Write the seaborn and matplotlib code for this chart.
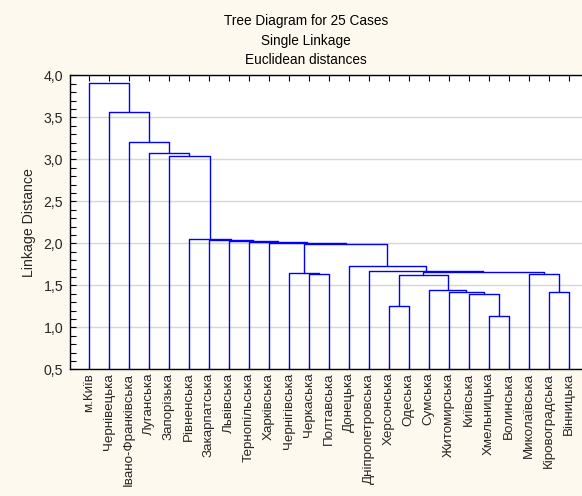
import numpy as np
import pandas as pd
import matplotlib
matplotlib.use("Agg")
import matplotlib.pyplot as plt
from matplotlib.ticker import MultipleLocator, FuncFormatter, FixedLocator
import seaborn as sns

# ---------------- data ----------------
title_lines = ["Tree Diagram for 25 Cases", "Single Linkage", "Euclidean distances"]
y_label = "Linkage Distance"

leaves = ["м.Київ", "Чернівецька", "Івано-Франківська", "Луганська", "Запорізька",
          "Рівненська", "Закарпатська", "Львівська", "Тернопільська", "Харківська",
          "Чернігівська", "Черкаська", "Полтавська", "Донецька", "Дніпропетровська",
          "Херсонська", "Одеська", "Сумська", "Житомирська", "Київська",
          "Хмельницька", "Волинська", "Миколаївська", "Кіровоградська", "Вінницька"]

# merges (ids < 25 are leaves, id 25 + k is the cluster made by merge k)
merge_left = [20, 15, 19, 23, 18, 17, 11, 26, 22, 10, 32, 14,
              13, 34, 9, 8, 7, 6, 5, 4, 3, 2, 1, 0]
merge_right = [21, 16, 25, 24, 27, 29, 12, 30, 28, 31, 33, 35,
               36, 37, 38, 39, 40, 41, 42, 43, 44, 45, 46, 47]
merge_height = [1.13, 1.25, 1.40, 1.42, 1.42, 1.44, 1.63, 1.625, 1.635, 1.65, 1.66, 1.67,
                1.73, 1.99, 2.01, 2.02, 2.03, 2.04, 2.05, 3.04, 3.08, 3.21, 3.56, 3.91]

y_min, y_max = 0.5, 4.0

# ---------------- build dendrogram segments ----------------
pos = [float(i) for i in range(len(leaves))]
hgt = [0.0] * len(leaves)
rows = []
for k, (l, r, h) in enumerate(zip(merge_left, merge_right, merge_height)):
    xl, xr = pos[l], pos[r]
    pts = [(xl, hgt[l]), (xl, h), (xr, h), (xr, hgt[r])]
    for j, (px, py) in enumerate(pts):
        rows.append({"seg": k, "order": j, "x": px, "y": py})
    pos.append((xl + xr) / 2.0)
    hgt.append(h)
df = pd.DataFrame(rows)

# ---------------- style ----------------
sns.set_style("white")
plt.rcParams["font.family"] = ["Liberation Sans", "DejaVu Sans"]
plt.rcParams["axes.linewidth"] = 1.0

W, H = 582, 496
fig = plt.figure(figsize=(W / 100, H / 100), dpi=100)
fig.patch.set_facecolor("#fdf9ee")

ax_left, ax_right, ax_top, ax_bottom = 69.5, 582.0, 75.5, 369.3
ax = fig.add_axes([ax_left / W, (H - ax_bottom) / H,
                   (ax_right - ax_left) / W, (ax_bottom - ax_top) / H])
ax.set_facecolor("white")

sns.lineplot(data=df, x="x", y="y", units="seg", estimator=None, sort=False,
             color="#0000ff", linewidth=1.0, ax=ax, legend=False)

# x scale: 20 px per leaf
first_leaf_px = 88.8
x_lo = -(first_leaf_px - ax_left) / 20.0
x_hi = x_lo + (ax_right - ax_left) / 20.0
ax.set_xlim(x_lo, x_hi)
ax.set_ylim(y_min, y_max)

ax.xaxis.set_major_locator(FixedLocator(range(len(leaves))))
ax.set_xticklabels(leaves, rotation=90, fontsize=9.6, va="top", ha="center")
ax.tick_params(axis="x", direction="in", top=True, bottom=True, length=4,
               width=0.8, pad=2.5, labelbottom=True, labeltop=False, color="black")

ax.yaxis.set_major_locator(MultipleLocator(0.5))
ax.yaxis.set_minor_locator(MultipleLocator(0.1))
ax.yaxis.set_major_formatter(FuncFormatter(lambda v, p: f"{v:.1f}".replace(".", ",")))
ax.tick_params(axis="y", which="both", direction="in", left=True, right=False,
               length=4, width=0.8, pad=4.5, labelsize=10.2, color="black")

ax.grid(axis="y", which="major", color="#d6d6d6", linewidth=1.0)
ax.grid(axis="x", visible=False)
ax.set_axisbelow(True)

for side in ["left", "top", "bottom"]:
    ax.spines[side].set_visible(True)
    ax.spines[side].set_color("black")
    ax.spines[side].set_linewidth(1.0)
ax.spines["right"].set_visible(False)

ax.set_xlabel("")
ax.set_ylabel(y_label, fontsize=10.2)
ax.yaxis.set_label_coords(-0.066, 0.5)

title_x = 306 / W
for i, line in enumerate(title_lines):
    fig.text(title_x, 1 - (21 + 19.5 * i) / H, line, ha="center", va="center",
             fontsize=9.8, color="black")

fig.savefig("out.png", dpi=100, facecolor=fig.get_facecolor())
